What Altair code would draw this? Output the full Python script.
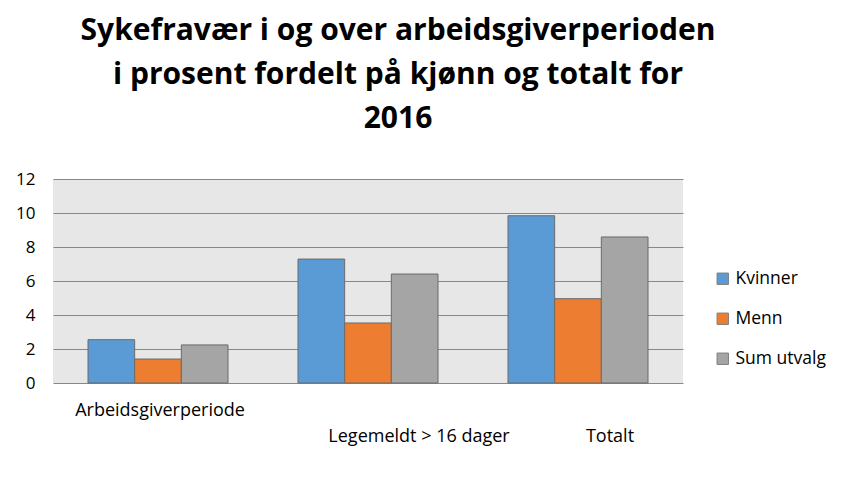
import altair as alt
import pandas as pd

categories = ["Arbeidsgiverperiode", "Legemeldt > 16 dager", "Totalt"]
series = ["Kvinner", "Menn", "Sum utvalg"]
kvinner = [2.55, 7.29, 9.84]
menn = [1.41, 3.53, 4.96]
sum_utvalg = [2.24, 6.41, 8.59]
colors = ["#5b9bd5", "#ed7d31", "#a5a5a5"]
y_ticks = [0, 2, 4, 6, 8, 10, 12]
title_lines = ["Sykefravær i og over arbeidsgiverperioden",
               "i prosent fordelt  på kjønn og totalt for",
               "2016"]

rows = []
for s, vals in zip(series, [kvinner, menn, sum_utvalg]):
    for c, v in zip(categories, vals):
        rows.append({"kategori": c, "serie": s, "verdi": v})
df = pd.DataFrame(rows)
lab_df = pd.DataFrame({"kategori": categories})

FONT = "Open Sans"
W, H = 630, 204

x_scale = alt.Scale(paddingInner=1/3, paddingOuter=1/6)
x_axis = alt.Axis(labels=False, ticks=False, domain=False, title=None, grid=False)
y_scale = alt.Scale(domain=[0, 12], nice=False)
y_axis = alt.Axis(values=y_ticks, grid=True, gridColor="#888888", gridWidth=1,
                  domain=False, ticks=False, title=None, labelOverlap=False,
                  labelFontSize=17, labelPadding=18, labelColor="#000000",
                  labelFont=FONT)

bars = alt.Chart(df).mark_bar(stroke="#6b6b6b", strokeWidth=1).encode(
    x=alt.X("kategori:N", sort=categories, scale=x_scale, axis=x_axis),
    xOffset=alt.XOffset("serie:N", sort=series,
                        scale=alt.Scale(paddingInner=0, paddingOuter=0)),
    y=alt.Y("verdi:Q", scale=y_scale, axis=y_axis),
    color=alt.Color("serie:N", sort=series,
                    scale=alt.Scale(domain=series, range=colors),
                    legend=alt.Legend(title=None, orient="none", legendX=661, legendY=91,
                                      symbolType="square", symbolSize=130,
                                      symbolStrokeColor="#7f7f7f", symbolStrokeWidth=1,
                                      labelFontSize=17.5, labelFont=FONT, labelColor="#000000",
                                      labelOffset=4, rowPadding=21)),
)

label_offsets = [(2, 28), (51, 54), (32, 54)]
label_layers = []
for c, (dx, dy) in zip(categories, label_offsets):
    label_layers.append(
        alt.Chart(lab_df).transform_filter(alt.datum.kategori == c)
        .mark_text(dx=dx, dy=dy, fontSize=18, font=FONT, color="#000000", baseline="middle")
        .encode(x=alt.X("kategori:N", sort=categories, scale=x_scale, axis=x_axis),
                y=alt.YDatum(0, type="quantitative", scale=y_scale, axis=y_axis),
                text="kategori:N")
    )

chart = alt.layer(bars, *label_layers).properties(
    width=W, height=H,
    title=alt.TitleParams(text=title_lines, fontSize=30, font=FONT, fontWeight="bold",
                          color="#000000", anchor="middle", frame="group",
                          lineHeight=44, offset=36, dx=30),
    autosize=alt.AutoSizeParams(type="none"),
    padding={"left": 45, "top": 171, "right": 156, "bottom": 89},
).configure(background="#ffffff").configure_view(fill="#e7e7e7", stroke=None)

chart.save("out.html", embed_options={"renderer": "svg", "actions": False})
